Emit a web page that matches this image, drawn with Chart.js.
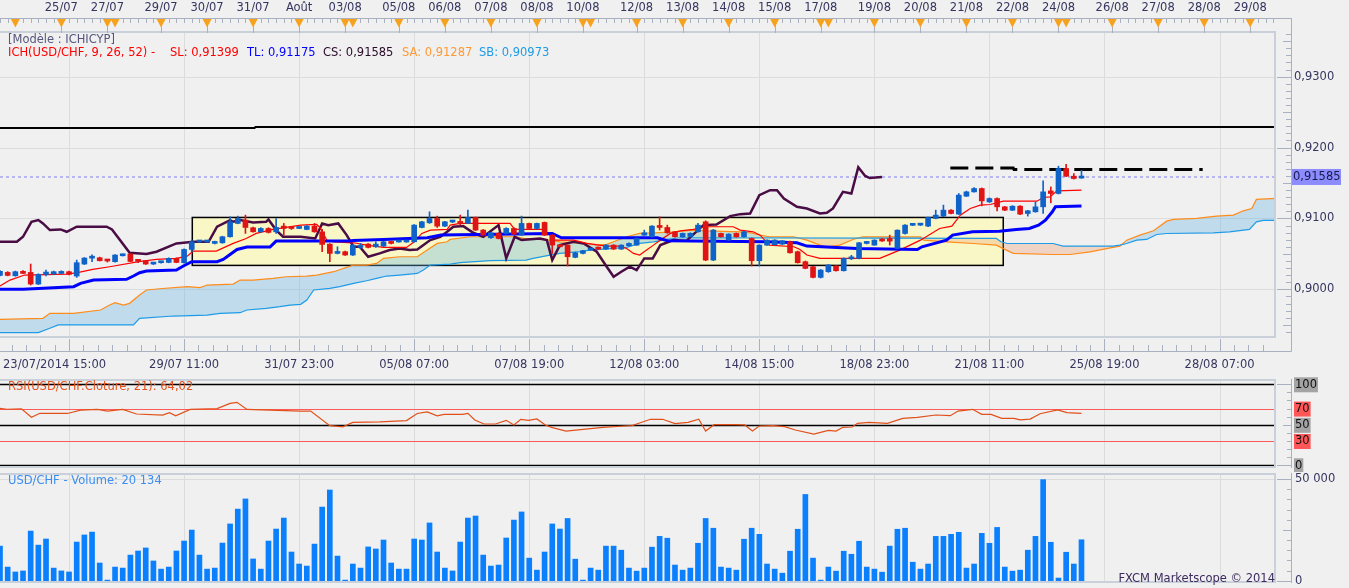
<!DOCTYPE html>
<html>
<head>
<meta charset="utf-8">
<title>USD/CHF - Ichimoku</title>
<script src="https://cdn.jsdelivr.net/npm/chart.js@4.4.1/dist/chart.umd.min.js"></script>
<style>
html, body { margin: 0; padding: 0; background: #f0f0f0; overflow: hidden; }
#wrap { position: relative; width: 1349px; height: 588px; }
canvas { position: absolute; left: 0; }
#main { top: 0; }
#rsi { top: 372px; }
#vol { top: 470px; }
</style>
</head>
<body>
<div id="wrap">
<canvas id="main" width="1349" height="380"></canvas>
<canvas id="rsi" width="1349" height="100"></canvas>
<canvas id="vol" width="1349" height="118"></canvas>
</div>
<script>
// 4h candles, index 0..141
var aOpens = [
    .90197,.90239,.90192,.90254,.90239,.90075,.90211,.90216,.90225,.90249,
    .90188,.90357,.90440,.90446,.90410,.90390,.90474,.90498,.90404,.90404,
    .90357,.90376,.90380,.90437,.90376,.90563,.90668,.90668,.90648,.90657,
    .90742,.90930,.90977,.90869,.90812,.90859,.90812,.90892,.90873,.90859,
    .90845,.90892,.90812,.90638,.90507,.90531,.90484,.90592,.90638,.90601,
    .90610,.90671,.90668,.90668,.90671,.90873,.90939,.91000,.90892,.90950,
    .90953,.90930,.91014,.90836,.90728,.90789,.90789,.90859,.90765,.90930,
    .90859,.90944,.90765,.90624,.90624,.90451,.90507,.90554,.90592,.90568,
    .90624,.90568,.90615,.90624,.90765,.90742,.90892,.90873,.90812,.90742,
    .90745,.90812,.90953,.90413,.90789,.90695,.90789,.90742,.90718,.90404,
    .90624,.90630,.90638,.90671,.90531,.90390,.90319,.90169,.90249,.90329,
    .90263,.90430,.90437,.90648,.90624,.90705,.90718,.90577,.90788,.90903,
    .90906,.90892,.91000,.91032,.91117,.91061,.91314,.91375,.91422,.91234,
    .91281,.91164,.91117,.91173,.91070,.91094,.91164,.91389,.91352,.91704,
    .91596,.91570
];
var aHighs = [
    .90265,.90250,.90258,.90265,.90357,.90220,.90272,.90258,.90262,.90258,
    .90413,.90450,.90488,.90455,.90423,.90490,.90498,.90505,.90410,.90410,
    .90380,.90395,.90445,.90445,.90570,.90695,.90678,.90678,.90680,.90750,
    .91023,.91033,.91047,.90880,.90870,.90870,.91000,.90930,.90885,.90880,
    .90900,.90930,.90845,.90645,.90601,.90540,.90630,.90648,.90645,.90671,
    .90680,.90678,.90678,.90678,.90915,.90960,.91094,.91033,.90960,.90965,
    .91047,.91117,.91020,.90845,.90805,.90800,.90870,.90870,.91033,.90935,
    .90935,.90950,.90770,.90630,.90630,.90525,.90550,.90582,.90598,.90630,
    .90630,.90630,.90655,.90725,.90836,.90900,.91023,.90906,.90820,.90795,
    .90798,.90930,.90967,.90845,.90795,.90785,.90795,.90820,.90725,.90630,
    .90700,.90700,.90690,.90680,.90540,.90400,.90325,.90280,.90350,.90335,
    .90445,.90480,.90665,.90676,.90700,.90715,.90765,.90840,.90915,.90915,
    .90918,.91020,.91117,.91188,.91125,.91352,.91385,.91436,.91430,.91290,
    .91290,.91170,.91180,.91180,.91115,.91234,.91530,.91445,.91737,.91765,
    .91633,.91680
];
var aLows = [
    .90190,.90190,.90185,.90220,.90061,.90068,.90188,.90210,.90220,.90205,
    .90169,.90350,.90390,.90400,.90385,.90385,.90470,.90390,.90376,.90350,
    .90350,.90370,.90375,.90375,.90370,.90531,.90665,.90665,.90640,.90650,
    .90735,.90925,.90789,.90805,.90805,.90795,.90789,.90765,.90845,.90855,
    .90840,.90805,.90531,.90390,.90500,.90478,.90478,.90577,.90585,.90592,
    .90605,.90640,.90665,.90665,.90665,.90865,.90930,.90873,.90885,.90940,
    .90906,.90925,.90830,.90760,.90720,.90710,.90780,.90770,.90760,.90850,
    .90850,.90760,.90507,.90595,.90329,.90445,.90500,.90550,.90562,.90562,
    .90562,.90562,.90610,.90620,.90760,.90735,.90836,.90790,.90735,.90735,
    .90738,.90805,.90405,.90405,.90735,.90690,.90735,.90735,.90329,.90329,
    .90620,.90625,.90630,.90510,.90370,.90290,.90160,.90160,.90240,.90258,
    .90258,.90420,.90430,.90640,.90620,.90675,.90625,.90570,.90780,.90900,
    .90900,.90885,.90995,.91025,.91065,.91055,.91310,.91370,.91178,.91225,
    .91108,.91110,.91110,.91055,.91033,.91088,.91070,.91220,.91345,.91590,
    .91555,.91565
];
var aCloses = [
    .90254,.90197,.90249,.90225,.90075,.90211,.90244,.90249,.90249,.90211,
    .90376,.90441,.90450,.90404,.90400,.90484,.90493,.90394,.90395,.90357,
    .90376,.90390,.90437,.90380,.90563,.90671,.90674,.90674,.90671,.90742,
    .90953,.91000,.90873,.90812,.90859,.90803,.90873,.90859,.90858,.90873,
    .90892,.90812,.90634,.90507,.90521,.90484,.90624,.90615,.90592,.90638,
    .90671,.90648,.90674,.90674,.90906,.90953,.91000,.90892,.90953,.90958,
    .90930,.91014,.90836,.90765,.90798,.90718,.90859,.90779,.90930,.90859,
    .90930,.90765,.90624,.90601,.90460,.90516,.90545,.90577,.90568,.90624,
    .90568,.90624,.90648,.90718,.90798,.90892,.90873,.90798,.90742,.90789,
    .90790,.90906,.90413,.90836,.90742,.90779,.90742,.90812,.90404,.90624,
    .90695,.90695,.90685,.90516,.90376,.90296,.90169,.90272,.90343,.90263,
    .90437,.90440,.90657,.90671,.90695,.90682,.90680,.90835,.90906,.90910,
    .90912,.91014,.91047,.91117,.91070,.91329,.91375,.91422,.91248,.91281,
    .91164,.91117,.91173,.91061,.91108,.91164,.91375,.91352,.91704,.91596,
    .91563,.91585
];
var aVolumes = [
    17000,6700,4300,4800,24400,17500,20500,6200,4800,4300,
    19000,22500,23900,8700,300,6700,6200,12600,14600,16100,
    9700,5700,6700,14600,19500,24900,12600,5700,6200,18500,
    27900,35200,40200,10700,5700,19500,25400,30800,14100,8200,
    7200,18000,36200,44600,12100,300,8200,6200,16600,15600,
    20000,8700,5700,5700,20500,20000,28400,14100,6200,4800,
    19000,30800,31800,12600,7200,7700,21000,29800,33800,11100,
    5200,14100,27900,25400,30600,10600,300,6200,5200,17000,
    17000,15000,6200,4700,6200,16500,21800,20900,7700,5200,
    6200,18400,30600,25800,6700,6200,5200,20400,25800,22800,
    8200,5700,3700,14500,25300,42400,11100,300,6700,4700,
    14500,13000,19400,6700,5700,4200,17000,25300,25800,9100,
    5700,8200,21800,21800,22800,23800,6200,8200,23300,18400,
    26200,6700,4700,5200,15000,21800,49700,18900,1300,14000,
    8200,20134
];
// [candle index, value]
var aRsi = [
    [0,70.3],[0.9,69.2],[2.8,69.8],[4.1,59.3],[5.2,64.2],[8.8,64],[10.5,68],[12.7,69],[14,67],[16,69],
    [17.8,63.3],[21.2,62],[22.1,65],[22.9,61],[24.8,69],[28.3,70],[30,76.5],[30.9,77.7],[32.2,69],[39.2,67],
    [40.5,67],[43,49],[44.7,47.5],[46,53],[49.5,53.5],[53,55.2],[54.4,64],[55.7,66],[57,61],[57.9,62.9],
    [60.3,62.9],[61,64.2],[61.9,55.9],[63.1,51],[64.6,51],[66,55.5],[67,49.8],[67.9,56.8],[68.9,55.5],[70,57.2],
    [71.1,49.8],[71.9,46.9],[73.8,42.3],[75.7,44],[78.6,46.9],[81.5,48.5],[82.4,49],[83.4,52.2],[84.8,56.8],[86.4,56.8],
    [88,51.4],[89.7,53],[91.1,56.8],[92,42.3],[93.1,50.1],[95.9,50.1],[97.1,49.8],[98.1,42.3],[99,48.5],[100.8,49],
    [102.3,47.7],[103.7,43.6],[106.1,38.6],[108,43.2],[109,42.3],[109.9,46.9],[111.1,47.3],[111.8,51.8],[113.3,53],[115.7,51.8],
    [117.7,58],[119.6,59.2],[122,62.1],[123.9,61.3],[124.9,67],[126.8,69.1],[128,62.9],[129.2,62.9],[130.6,58],[132.2,58],
    [133,56],[134.3,57],[135.6,63.6],[137.9,68.5],[139.1,65],[141,64.02]
];
var aTenkan = [
    [0,.90047],[1.3,.90131],[3.2,.90202],[8.7,.90216],[10.1,.90235],[12.1,.90282],[14.3,.90319],[18.1,.90390],
    [20.4,.90423],[23,.90437],[24.4,.90469],[25.2,.90540],[28.2,.90540],[30.4,.90648],[32.1,.90718],[33.4,.90789],
    [35.6,.90845],[39.2,.90906],[41.3,.90915],[41.8,.90859],[42.6,.90695],[43.5,.90671],[46.1,.90657],[47.8,.90624],
    [50,.90592],[53,.90592],[54,.90671],[55,.90789],[56.1,.90836],[58.3,.90845],[58.7,.90906],[60,.90930],
    [66.5,.90930],[67.1,.90845],[70.9,.90845],[71.7,.90765],[72.4,.90695],[74.8,.90695],[76.5,.90648],[79.1,.90610],
    [80.8,.90610],[81.7,.90577],[82.6,.90507],[83.4,.90484],[84.3,.90554],[85.2,.90624],[86.1,.90695],[87.4,.90789],
    [88.7,.90826],[90.4,.90845],[92.1,.90883],[95.6,.90883],[96.5,.90836],[98.2,.90812],[99.1,.90765],[100.3,.90624],
    [103.5,.90601],[104.3,.90563],[105.2,.90484],[106.9,.90437],[114.7,.90437],[117.3,.90554],[120,.90694],[122.5,.90859],
    [124.1,.90892],[125.2,.91046],[126.5,.91141],[127.8,.91187],[129.1,.91197],[130.8,.91244],[135.2,.91244],[136,.91296],
    [136.9,.91305],[137.8,.91389],[141,.91399]
];
var aKijun = [
    [0,.90000],[3,.90000],[9.6,.90038],[10.5,.90085],[12.2,.90131],[16.5,.90141],[17.4,.90188],[18.2,.90235],
    [19.1,.90258],[23,.90272],[23.9,.90329],[25,.90390],[28.3,.90390],[29.1,.90423],[30.9,.90563],[32.2,.90596],
    [35.2,.90596],[36,.90681],[45.6,.90681],[46.1,.90690],[50,.90704],[55.7,.90728],[57.5,.90765],[72,.90789],
    [73.2,.90728],[85.7,.90728],[87,.90685],[99.9,.90671],[103.9,.90657],[105.2,.90610],[111.7,.90577],[119.6,.90563],
    [120.2,.90600],[123.4,.90694],[124.2,.90765],[126.8,.90812],[130.3,.90821],[132.5,.90845],[134.2,.90859],[135.4,.90906],
    [136.3,.90976],[137.2,.91094],[137.6,.91164],[141,.91175]
];
var aChikou = [
    [0,.90671],[2.2,.90671],[3,.90742],[4.1,.90953],[5,.90977],[5.6,.90930],[6.5,.90836],[7.9,.90845],
    [8.7,.90812],[10,.90883],[13.9,.90883],[14.6,.90845],[16.9,.90516],[19.1,.90498],[20.4,.90531],[23,.90648],
    [25.2,.90671],[27.2,.90671],[28.3,.90883],[30,.90977],[30.4,.90953],[31.3,.90977],[33,.90944],[34.7,.90953],
    [35,.90986],[36,.90836],[36.9,.90742],[39.2,.90742],[41.1,.90718],[42,.90930],[42.8,.90906],[44.1,.90930],
    [45.2,.90765],[46.1,.90601],[46.9,.90601],[48,.90460],[49.5,.90507],[50.8,.90554],[52.1,.90577],[53.4,.90554],
    [54.4,.90563],[56.1,.90695],[57.4,.90742],[58.3,.90812],[59.1,.90883],[60.4,.90892],[61.7,.90798],[63,.90742],
    [65,.90906],[66,.90437],[67.1,.90742],[68,.90695],[70.4,.90718],[71.3,.90695],[72,.90413],[73,.90624],
    [74.8,.90671],[76.1,.90648],[77.8,.90531],[79.1,.90319],[80,.90178],[81,.90249],[82.1,.90319],[83,.90272],
    [84,.90437],[85.1,.90437],[86.1,.90624],[87.8,.90695],[89.5,.90685],[91.7,.90906],[93.4,.90915],[95.2,.91033],
    [96.5,.91061],[97.8,.91070],[99,.91329],[100.4,.91399],[101.3,.91399],[102.2,.91282],[103.9,.91164],[105.2,.91141],
    [106.9,.91070],[107.8,.91080],[108.6,.91141],[109.9,.91376],[111,.91352],[111.9,.91723],[112.8,.91600],[113.4,.91570],
    [115,.91585]
];
var aSenkouA = [
    [0,.89577],[5.6,.89592],[6.5,.89662],[9.6,.89662],[13.1,.89709],[14.3,.89779],[15,.89812],[16.1,.89779],
    [16.9,.89803],[18.2,.89920],[19.1,.89991],[20.8,.90009],[24.4,.90038],[26.1,.90024],[27,.90061],[30.4,.90075],
    [31.3,.90131],[33,.90131],[35.6,.90155],[37.3,.90178],[40,.90188],[41.3,.90202],[43.5,.90249],[45.2,.90310],
    [46.1,.90343],[47.8,.90343],[49.1,.90366],[50,.90437],[52.1,.90460],[54.4,.90460],[55.7,.90554],[57,.90648],
    [58.3,.90671],[58.7,.90704],[61.3,.90742],[67.3,.90742],[68.2,.90718],[71.7,.90695],[73,.90671],[76.5,.90648],
    [77.8,.90624],[79.1,.90634],[80,.90671],[81.7,.90742],[83.4,.90789],[85.2,.90798],[87.8,.90812],[90.4,.90836],
    [92.1,.90826],[96.5,.90812],[97.8,.90798],[99.1,.90765],[100.3,.90742],[103.5,.90742],[105.2,.90695],[106.9,.90624],
    [107.8,.90601],[109.5,.90624],[111.2,.90704],[112.5,.90742],[120,.90741],[120.4,.90694],[123.4,.90671],[126.9,.90647],
    [129.9,.90624],[131.2,.90553],[132.1,.90507],[137.3,.90492],[139.5,.90492],[142.1,.90530],[145.1,.90591],[146,.90610],
    [146.9,.90694],[148.6,.90765],[150.4,.90826],[152.1,.90962],[153,.90986],[156,.91000],[158.6,.91033],[160.8,.91047],
    [162.1,.91108],[163.2,.91141],[163.8,.91268],[167,.91287]
];
var aSenkouB = [
    [0,.89390],[5,.89390],[6.5,.89451],[7.6,.89498],[17.4,.89498],[18.2,.89592],[22.6,.89624],[27,.89638],
    [28.7,.89662],[31.3,.89671],[32.2,.89709],[34.7,.89732],[36.5,.89756],[37.8,.89779],[39.2,.89789],[40,.89850],
    [40.9,.89991],[43,.90014],[44.3,.90038],[46.1,.90085],[47.8,.90122],[49.1,.90155],[50.4,.90188],[52.1,.90202],
    [54.4,.90225],[55.2,.90272],[56.1,.90343],[58.7,.90357],[60,.90376],[63.9,.90404],[68.6,.90413],[69.5,.90437],
    [71.7,.90484],[73,.90507],[75.6,.90531],[76.9,.90554],[80,.90577],[81.7,.90592],[83.4,.90648],[85.2,.90671],
    [87,.90704],[88.7,.90728],[114.7,.90722],[129.9,.90718],[130.5,.90671],[131.3,.90647],[137.3,.90647],[138.6,.90610],
    [145.1,.90610],[146,.90624],[146.9,.90647],[148.2,.90694],[149.5,.90704],[150.8,.90774],[152.1,.90788],[158.2,.90798],
    [160.3,.90812],[162.9,.90845],[163.8,.90953],[164.7,.90973],[167,.90973]
];
// drawings on the chart
var aTrendTop = [[0,.92275],[33.2,.92275],[33.3,.92290],[166.4,.92290]];
var aTrendDash = [[123.9,.91713],[132.1,.91713],[132.2,.91690],[156.8,.91690]];
var aBox = [25.07, 130.8, .91014, .90338];

// axes
var aDayLabels = ['25/07','27/07','29/07','30/07','31/07','Août','03/08','05/08','06/08','07/08','08/08','10/08','12/08',
    '13/08','14/08','15/08','17/08','19/08','20/08','21/08','22/08','24/08','26/08','27/08','28/08','29/08'];
var aDayPos = [8,14,21,27,33,39,45,52,58,64,70,76,83,89,95,101,107,114,120,126,132,138,145,151,157,163];
var aEventPos = [2,15,46,77,108,139];
var aTimeLabels = ['23/07/2014 15:00','29/07 11:00','31/07 23:00','05/08 07:00','07/08 19:00','12/08 03:00',
    '14/08 15:00','18/08 23:00','21/08 11:00','25/08 19:00','28/08 07:00'];
var aTimePos = [9,24,39,54,69,84,99,114,129,144,159];
var aPriceTicks = [.90,.91,.92,.93];
var aRsiLevels = [100,70,50,30,0];

var FONT = '11.5px "DejaVu Sans", sans-serif';
var TXT = '#35355f';
var GRID = '#dcdcdc';
var FRAME = '#c9d0da';
var AXIS = '#a9b1c0';
var BLUE = '#0f62c8';
var RED = '#e01414';
var XMAX = 166.36;
var AX = 1291.5;

var oChart = {
    init: function () {
        oChart.mainChart();
        oChart.rsiChart();
        oChart.volumeChart();
    },

    line: function (aPts, sColor, fWidth, iOrder) {
        return {
            type: 'line',
            data: aPts.map(function (p) { return { x: p[0], y: p[1] }; }),
            borderColor: sColor,
            borderWidth: fWidth,
            pointRadius: 0,
            tension: 0,
            fill: false,
            order: iOrder
        };
    },

    vGrid: function (chart) {
        var ctx = chart.ctx, a = chart.chartArea, x = chart.scales.x;
        ctx.save();
        ctx.strokeStyle = GRID;
        ctx.lineWidth = 1;
        aTimePos.forEach(function (k) {
            var px = Math.round(x.getPixelForValue(k)) + 0.5;
            ctx.beginPath(); ctx.moveTo(px, a.top); ctx.lineTo(px, a.bottom); ctx.stroke();
        });
        ctx.restore();
    },

    frame: function (chart) {
        var ctx = chart.ctx, a = chart.chartArea;
        ctx.save();
        ctx.strokeStyle = FRAME;
        ctx.lineWidth = 2;
        ctx.beginPath();
        ctx.moveTo(0, a.top + 1); ctx.lineTo(a.right - 1, a.top + 1);
        ctx.lineTo(a.right - 1, a.bottom - 1); ctx.lineTo(0, a.bottom - 1);
        ctx.stroke();
        ctx.restore();
    },

    text: function (ctx, s, x, y, sColor, sAlign) {
        ctx.font = FONT;
        ctx.fillStyle = sColor;
        ctx.textAlign = sAlign || 'left';
        ctx.textBaseline = 'middle';
        ctx.fillText(s, x, y);
    },

    mainChart: function () {
        var aColors = aOpens.map(function (o, i) { return aCloses[i] >= o ? BLUE : RED; });
        var fLast = aCloses[aCloses.length - 1];
        var aDatasets = [
            { type: 'bar', data: aOpens.map(function (o, i) { return { x: i, y: [o, aCloses[i]] }; }),
              backgroundColor: aColors, barThickness: 5, minBarLength: 2, grouped: false, order: 0 },
            { type: 'bar', data: aOpens.map(function (o, i) { return { x: i, y: [aLows[i], aHighs[i]] }; }),
              backgroundColor: aColors, barThickness: 1, grouped: false, order: 1 },
            oChart.line(aTenkan, '#ff0000', 1.2, 3),
            oChart.line(aKijun, '#0000ff', 3, 2),
            oChart.line(aChikou, '#4a0c44', 2.5, 4),
            oChart.line(aTrendTop, '#000000', 2, 5),
            oChart.line(aTrendDash, '#000000', 3, 5),
            oChart.line([[0, fLast], [XMAX, fLast]], '#8080f0', 1, 6),
            oChart.line(aSenkouB, '#1e9be6', 1.2, 8),
            oChart.line(aSenkouA, '#ff8c1a', 1.2, 9)
        ];
        aDatasets[6].borderDash = [18, 7];
        aDatasets[7].borderDash = [3, 3];
        aDatasets[9].fill = { target: 8, above: 'rgba(100,180,230,0.35)', below: 'rgba(240,150,100,0.30)' };

        var oDecor = {
            id: 'mainDecor',
            beforeDatasetsDraw: function (chart) {
                var ctx = chart.ctx, a = chart.chartArea, x = chart.scales.x, y = chart.scales.y;
                ctx.save();
                ctx.strokeStyle = GRID;
                ctx.lineWidth = 1;
                aPriceTicks.forEach(function (v) {
                    var py = Math.round(y.getPixelForValue(v)) + 0.5;
                    ctx.beginPath(); ctx.moveTo(a.left, py); ctx.lineTo(a.right, py); ctx.stroke();
                });
                ctx.restore();
                oChart.vGrid(chart);
                var x0 = x.getPixelForValue(aBox[0]), x1 = x.getPixelForValue(aBox[1]);
                var y0 = y.getPixelForValue(aBox[2]), y1 = y.getPixelForValue(aBox[3]);
                ctx.save();
                ctx.fillStyle = '#f9f7c6';
                ctx.fillRect(x0, y0, x1 - x0, y1 - y0);
                ctx.strokeStyle = '#000000';
                ctx.lineWidth = 1.5;
                ctx.strokeRect(x0, y0, x1 - x0, y1 - y0);
                ctx.restore();
            },
            afterDraw: function (chart) {
                var ctx = chart.ctx, x = chart.scales.x, y = chart.scales.y;
                oChart.frame(chart);
                ctx.save();
                ctx.strokeStyle = AXIS;
                ctx.lineWidth = 1;
                // top date ruler
                ctx.beginPath(); ctx.moveTo(0, 18.5); ctx.lineTo(AX, 18.5); ctx.stroke();
                for (var k = 0; k <= 166; k++) {
                    var px = Math.round(x.getPixelForValue(k)) + 0.5;
                    ctx.beginPath(); ctx.moveTo(px, 18.5); ctx.lineTo(px, 23); ctx.stroke();
                }
                aDayPos.forEach(function (d) {
                    var p = Math.round(x.getPixelForValue(d)) + 0.5;
                    ctx.beginPath(); ctx.moveTo(p, 18.5); ctx.lineTo(p, 33); ctx.stroke();
                });
                ctx.fillStyle = '#f6a21e';
                aDayPos.concat(aEventPos).forEach(function (d) {
                    var p = x.getPixelForValue(d);
                    ctx.beginPath(); ctx.moveTo(p - 4.5, 19); ctx.lineTo(p + 4.5, 19); ctx.lineTo(p, 27.5);
                    ctx.closePath(); ctx.fill();
                });
                aDayLabels.forEach(function (s, i) {
                    oChart.text(ctx, s, x.getPixelForValue(aDayPos[i]), 8.5, TXT, 'center');
                });
                // right price axis
                ctx.strokeStyle = AXIS;
                ctx.beginPath(); ctx.moveTo(AX, 18); ctx.lineTo(AX, 351.5); ctx.stroke();
                for (var i = 894; i <= 936; i++) {
                    var py = Math.round(y.getPixelForValue(i / 1000)) + 0.5;
                    var xs = i % 10 === 0 ? 1277 : (i % 5 === 0 ? 1283 : 1286);
                    ctx.beginPath(); ctx.moveTo(xs, py); ctx.lineTo(AX, py); ctx.stroke();
                }
                aPriceTicks.forEach(function (v) {
                    oChart.text(ctx, v.toFixed(4).replace('.', ','), 1294, y.getPixelForValue(v), TXT);
                });
                var cy = y.getPixelForValue(aCloses[aCloses.length - 1]);
                ctx.fillStyle = '#8c8cff';
                ctx.fillRect(1292, cy - 8, 49, 16);
                oChart.text(ctx, aCloses[aCloses.length - 1].toFixed(5).replace('.', ','), 1293, cy, '#1a1a4a');
                // bottom time axis
                ctx.strokeStyle = AXIS;
                ctx.beginPath(); ctx.moveTo(0, 351.5); ctx.lineTo(AX, 351.5); ctx.stroke();
                for (var j = -4; j <= 84; j++) {
                    var t = aTimePos[0] + j * 15 / 8;
                    if (t > XMAX) { break; }
                    var tx = Math.round(x.getPixelForValue(t)) + 0.5;
                    ctx.beginPath(); ctx.moveTo(tx, j % 8 === 0 ? 339 : 345); ctx.lineTo(tx, 351.5); ctx.stroke();
                }
                aTimeLabels.forEach(function (s, n) {
                    if (n === 0) {
                        oChart.text(ctx, s, 3, 365, TXT, 'left');
                    } else {
                        oChart.text(ctx, s, x.getPixelForValue(aTimePos[n]), 365, TXT, 'center');
                    }
                });
                // legend
                oChart.text(ctx, '[Modèle : ICHICYP]', 8, 40, '#55557c');
                oChart.text(ctx, 'ICH(USD/CHF, 9, 26, 52) -', 8, 53, '#ff0000');
                oChart.text(ctx, 'SL: 0,91399', 170, 53, '#ff0000');
                oChart.text(ctx, 'TL: 0,91175', 247, 53, '#0000ff');
                oChart.text(ctx, 'CS: 0,91585', 323, 53, '#2a0a2a');
                oChart.text(ctx, 'SA: 0,91287', 402, 53, '#ff9933');
                oChart.text(ctx, 'SB: 0,90973', 479, 53, '#1e9be6');
                ctx.restore();
            }
        };

        new Chart(document.getElementById('main'), {
            type: 'bar',
            data: { datasets: aDatasets },
            options: {
                responsive: false,
                animation: false,
                layout: { padding: { top: 31, bottom: 42, left: 0, right: 73 } },
                plugins: { legend: { display: false }, tooltip: { enabled: false } },
                scales: {
                    x: { type: 'linear', min: 0, max: XMAX, offset: false, display: false },
                    y: { min: 0.893141, max: 0.936437, display: false }
                }
            },
            plugins: [oDecor]
        });
    },

    rsiChart: function () {
        var fLast = aRsi[aRsi.length - 1][1];
        var oDecor = {
            id: 'rsiDecor',
            beforeDatasetsDraw: function (chart) {
                var ctx = chart.ctx, a = chart.chartArea, y = chart.scales.y;
                oChart.vGrid(chart);
                ctx.save();
                aRsiLevels.forEach(function (v) {
                    var bRed = (v === 70 || v === 30);
                    var py = Math.round(y.getPixelForValue(v)) + 0.5;
                    ctx.strokeStyle = bRed ? '#ff5a5a' : '#000000';
                    ctx.lineWidth = bRed ? 1 : 1.6;
                    ctx.beginPath(); ctx.moveTo(a.left, py); ctx.lineTo(a.right, py); ctx.stroke();
                });
                ctx.restore();
            },
            afterDraw: function (chart) {
                var ctx = chart.ctx, a = chart.chartArea, y = chart.scales.y;
                oChart.frame(chart);
                ctx.save();
                // canvas starts at page y 372
                oChart.text(ctx, 'RSI(USD/CHF.Cloture, 21): ' + fLast.toFixed(2).replace('.', ','), 8, 15, '#e4521c');
                ctx.strokeStyle = AXIS;
                ctx.lineWidth = 1;
                ctx.beginPath(); ctx.moveTo(AX, a.top); ctx.lineTo(AX, a.bottom); ctx.stroke();
                for (var v = 0; v <= 100; v += 10) {
                    var py = Math.round(y.getPixelForValue(v)) + 0.5;
                    var xs = (v === 0 || v === 100) ? 1277 : (v === 50 ? 1283 : 1287);
                    ctx.beginPath(); ctx.moveTo(xs, py); ctx.lineTo(AX, py); ctx.stroke();
                }
                ctx.font = FONT;
                aRsiLevels.forEach(function (lv) {
                    var s = String(lv);
                    var w = ctx.measureText(s).width + 2;
                    var py = y.getPixelForValue(lv);
                    ctx.fillStyle = (lv === 70 || lv === 30) ? '#ff5757' : '#a4a4a4';
                    ctx.fillRect(1294, py - 7, w, 15);
                    oChart.text(ctx, s, 1295, py + 0.5, '#111111');
                });
                ctx.restore();
            }
        };

        new Chart(document.getElementById('rsi'), {
            type: 'line',
            data: { datasets: [ oChart.line(aRsi, '#e2501a', 1.2, 0) ] },
            options: {
                responsive: false,
                animation: false,
                layout: { padding: { top: 7, bottom: 4, left: 0, right: 73 } },
                plugins: { legend: { display: false }, tooltip: { enabled: false } },
                scales: {
                    x: { type: 'linear', min: 0, max: XMAX, display: false },
                    y: { min: -3.33, max: 106.54, display: false }
                }
            },
            plugins: [oDecor]
        });
    },

    volumeChart: function () {
        var iLast = aVolumes[aVolumes.length - 1];
        var sLast = String(iLast).replace(/\B(?=(\d{3})+(?!\d))/g, ' ');
        var oDecor = {
            id: 'volDecor',
            beforeDatasetsDraw: function (chart) {
                var ctx = chart.ctx, a = chart.chartArea, y = chart.scales.y;
                oChart.vGrid(chart);
                ctx.save();
                ctx.strokeStyle = GRID;
                ctx.lineWidth = 1;
                [0, 50000].forEach(function (v) {
                    var py = Math.round(y.getPixelForValue(v)) + 0.5;
                    ctx.beginPath(); ctx.moveTo(a.left, py); ctx.lineTo(a.right, py); ctx.stroke();
                });
                ctx.restore();
            },
            afterDraw: function (chart) {
                var ctx = chart.ctx, a = chart.chartArea, y = chart.scales.y;
                oChart.frame(chart);
                ctx.save();
                // canvas starts at page y 470
                oChart.text(ctx, 'USD/CHF - Volume: ' + sLast, 8, 11, '#3b8ef0');
                oChart.text(ctx, 'FXCM Marketscope © 2014', 1275, 109, '#3c2a5e', 'right');
                ctx.strokeStyle = AXIS;
                ctx.lineWidth = 1;
                ctx.beginPath(); ctx.moveTo(AX, a.top); ctx.lineTo(AX, a.bottom); ctx.stroke();
                for (var v = 0; v <= 50000; v += 5000) {
                    var py = Math.round(y.getPixelForValue(v)) + 0.5;
                    var xs = (v === 0 || v === 50000) ? 1277 : (v === 25000 ? 1283 : 1287);
                    ctx.beginPath(); ctx.moveTo(xs, py); ctx.lineTo(AX, py); ctx.stroke();
                }
                oChart.text(ctx, '50 000', 1295, y.getPixelForValue(50000), TXT);
                oChart.text(ctx, '0', 1295, y.getPixelForValue(0), TXT);
                ctx.restore();
            }
        };

        new Chart(document.getElementById('vol'), {
            type: 'bar',
            data: { datasets: [{
                data: aVolumes.map(function (v, i) { return { x: i, y: v }; }),
                backgroundColor: '#0a80ff',
                barThickness: 5
            }] },
            options: {
                responsive: false,
                animation: false,
                layout: { padding: { top: 3, bottom: 5, left: 0, right: 73 } },
                plugins: { legend: { display: false }, tooltip: { enabled: false } },
                scales: {
                    x: { type: 'linear', min: 0, max: XMAX, offset: false, display: false },
                    y: { min: -1131, max: 52950, display: false }
                }
            },
            plugins: [oDecor]
        });
    }
};

oChart.init();
</script>
</body>
</html>
